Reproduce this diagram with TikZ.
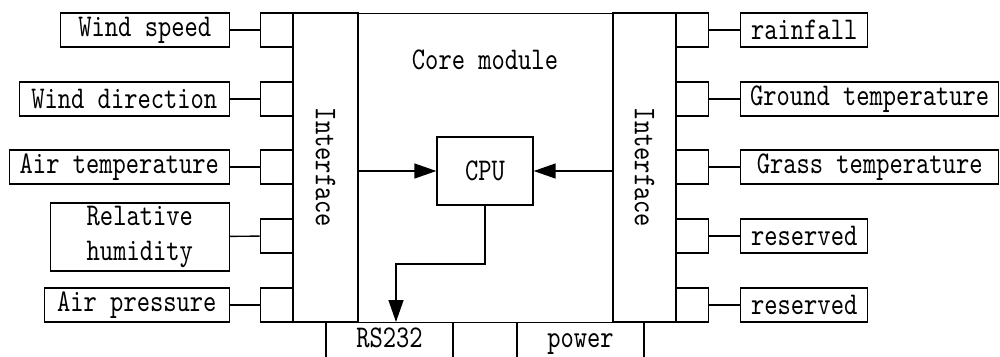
\documentclass[tikz,border=0pt]{standalone}
\usepackage{fontspec}
\newfontfamily\diagfont[FakeStretch=0.8]{lmmono10-regular.otf}
\usetikzlibrary{arrows.meta, calc}
\begin{document}
\begin{tikzpicture}[x=0.02cm, y=-0.02cm, >={Triangle[length=0.44cm,width=0.3cm]}, font=\diagfont\fontsize{18}{20}\selectfont, line width=0.8pt]
\tikzset{sensor/.style={draw, minimum height=0.68cm, inner sep=0}, port/.style={draw, minimum width=0.64cm, minimum height=0.68cm, inner sep=0}, bus/.style={draw, minimum width=2.54cm, minimum height=0.72cm, text height=12pt, text depth=4pt, inner sep=0, anchor=north}, iface/.style={draw, rotate=-90, minimum width=6.18cm, inner sep=0}}
\useasboundingbox (0,0) rectangle (1000,356);
\clip (0,0) rectangle (1000,356);
\node[draw, anchor=north west, minimum width=7.66cm, minimum height=6.18cm, inner sep=0] (core) at (293,13) {};
\node (coretitle) at (485,60) {Core module};
\node[iface, minimum height=1.3cm] (ifl) at (325.5,167.5) {Interface};
\node[iface, minimum height=1.26cm] (ifr) at (644.5,167.5) {Interface};
\node[draw, minimum width=1.92cm, minimum height=1.36cm] (cpu) at (485,171) {CPU};
\foreach \y [count=\i] in {30,99,167,236,305} {
  \node[port, anchor=east] (pl\i) at (293,\y) {};
  \node[port, anchor=west] (pr\i) at (676,\y) {};
}
\node[sensor, anchor=east, minimum width=3.38cm] (ws) at (230,30) {Wind speed};
\node[sensor, anchor=east, minimum width=4.2cm] (wd) at (230,99) {Wind direction};
\node[sensor, anchor=east, minimum width=4.4cm] (atemp) at (230,167) {Air temperature};
\node[sensor, anchor=east, minimum width=3.58cm, minimum height=1.36cm, align=center] (rh) at (230,237) {Relative\\humidity};
\node[sensor, anchor=east, minimum width=3.7cm] (ap) at (230,305) {Air pressure};
\node[sensor, anchor=west, minimum width=2.54cm] (rain) at (740,30) {rainfall};
\node[sensor, anchor=west, minimum width=5.16cm] (gnd) at (740,99) {Ground temperature};
\node[sensor, anchor=west, minimum width=5.16cm] (grass) at (740,167) {Grass temperature};
\node[sensor, anchor=west, minimum width=2.54cm] (res1) at (740,236) {reserved};
\node[sensor, anchor=west, minimum width=2.54cm] (res2) at (740,305) {reserved};
\node[bus] (rs) at (389.5,322) {RS232};
\node[bus] (pwr) at (580.5,322) {power};
\foreach \a/\b in {ws/pl1, wd/pl2, atemp/pl3, rh/pl4, ap/pl5, rain/pr1, gnd/pr2, grass/pr3, res1/pr4, res2/pr5}
  \draw (\a) -- (\b);
\coordinate (bend) at (396,264);
\draw[->] (ifl.north |- cpu) -- (cpu);
\draw[->] (ifr.south |- cpu) -- (cpu);
\draw[->] (cpu.south) |- (bend) -- (bend |- rs.north);
\end{tikzpicture}
\end{document}
